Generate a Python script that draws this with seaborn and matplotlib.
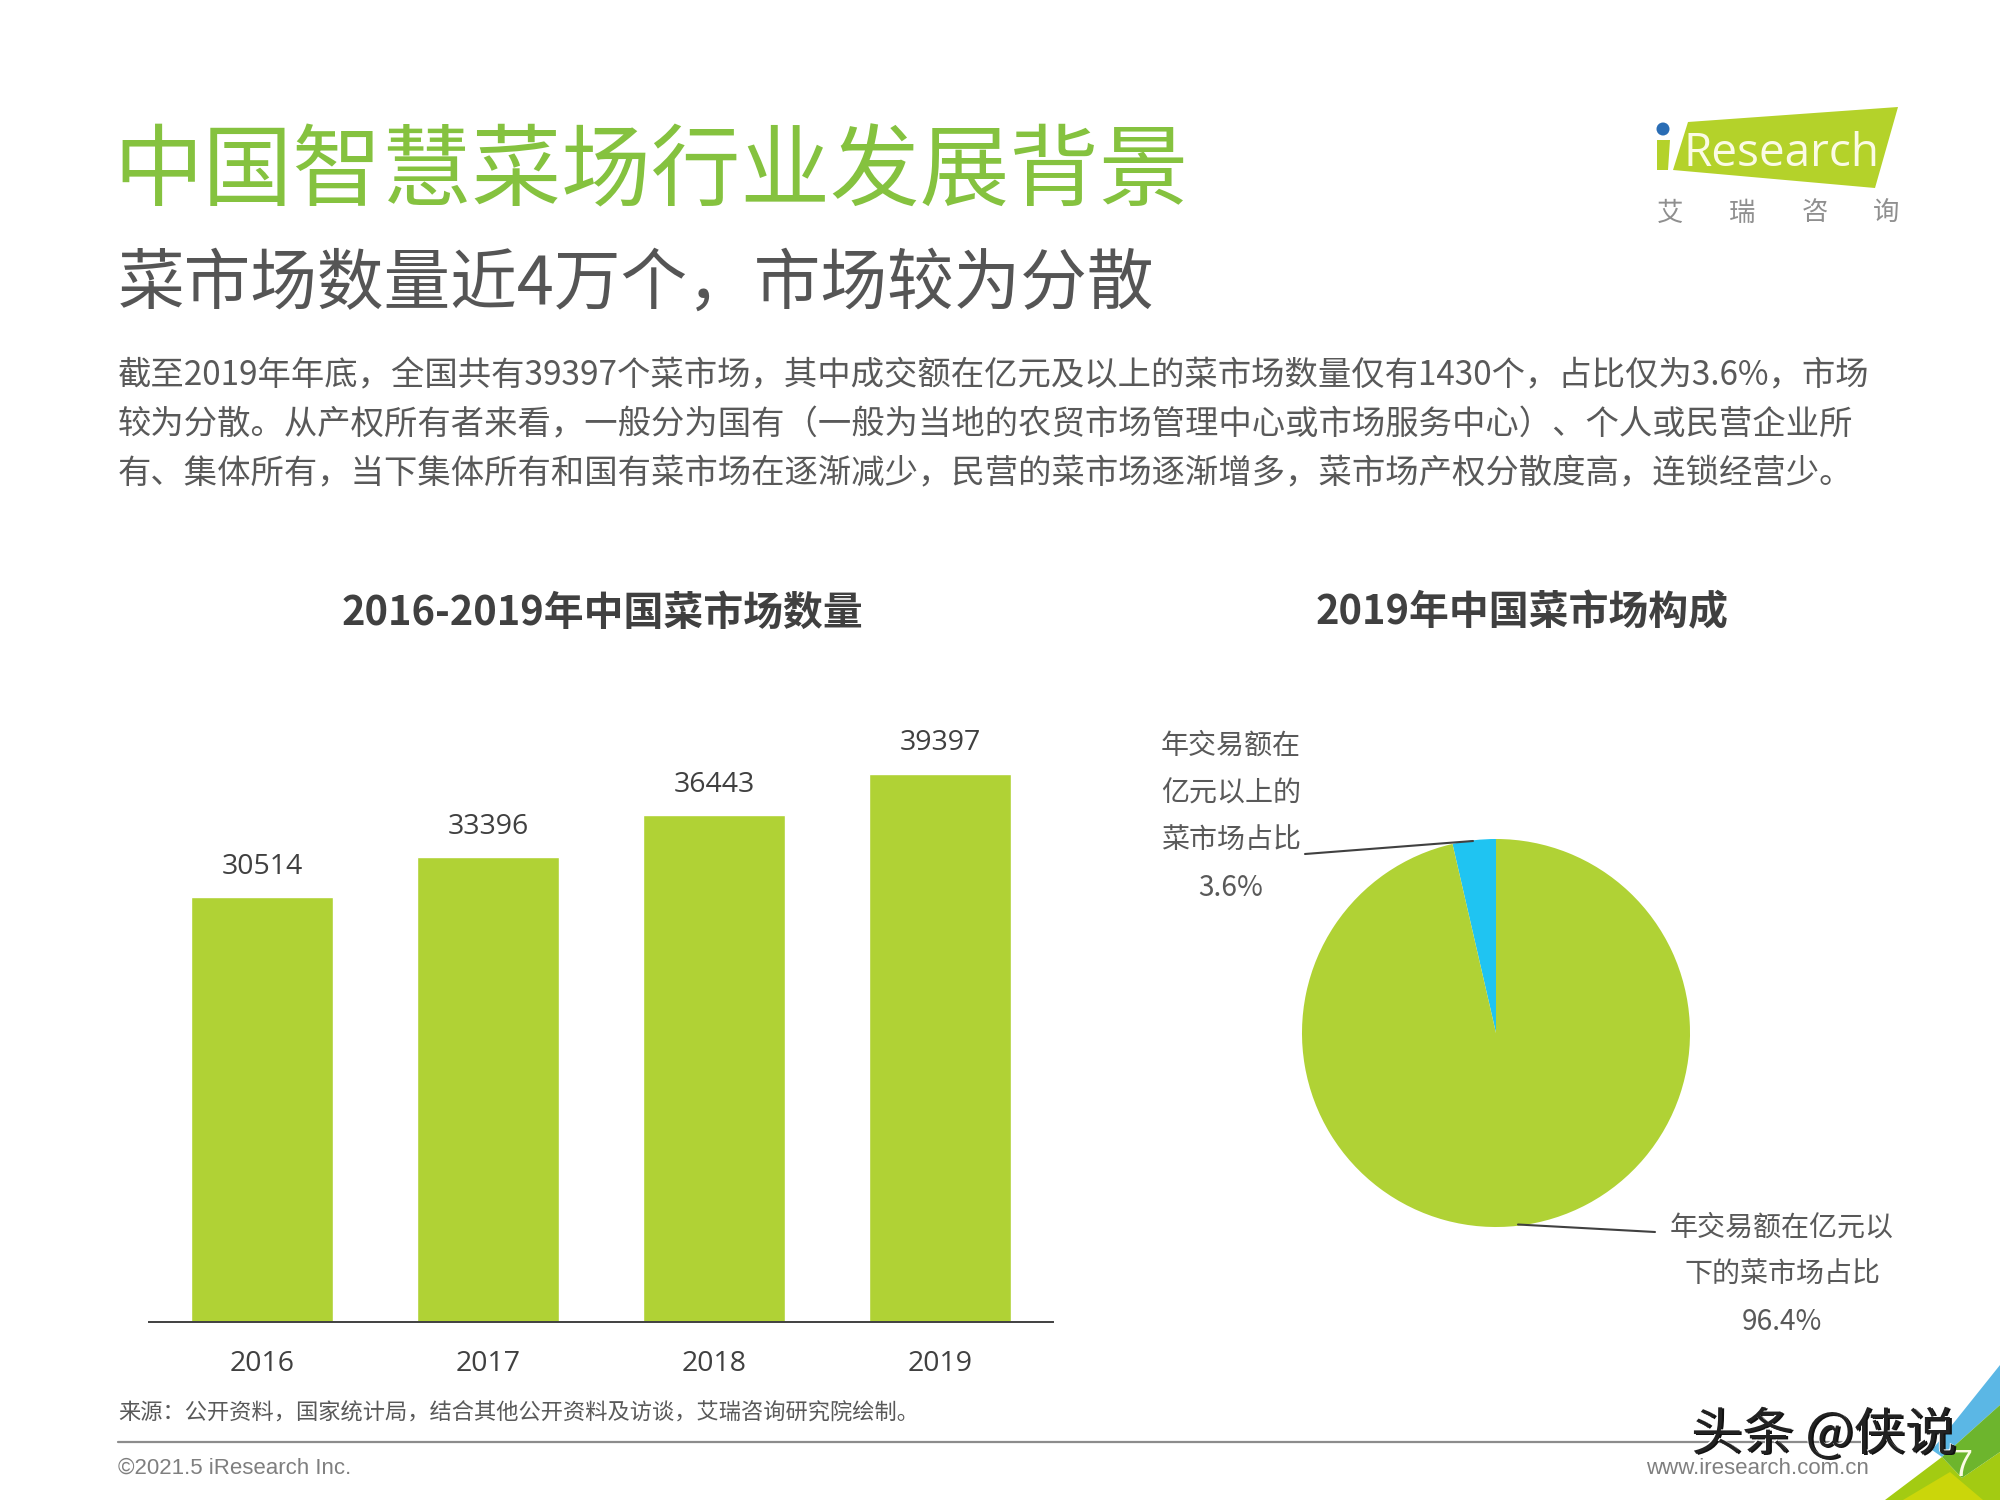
import matplotlib
matplotlib.use('Agg')
import matplotlib.pyplot as plt
import pandas as pd
import seaborn as sns
from matplotlib.patches import Circle, Polygon

# data
years = ['2016', '2017', '2018', '2019']
market_counts = [30514, 33396, 36443, 39397]
pie_labels = ['亿元以上', '亿元以下']
pie_shares = [3.6, 96.4]

body_lines = [
    '截至2019年年底，全国共有39397个菜市场，其中成交额在亿元及以上的菜市场数量仅有1430个，占比仅为3.6%，市场',
    '较为分散。从产权所有者来看，一般分为国有（一般为当地的农贸市场管理中心或市场服务中心）、个人或民营企业所',
    '有、集体所有，当下集体所有和国有菜市场在逐渐减少，民营的菜市场逐渐增多，菜市场产权分散度高，连锁经营少。',
]
upper_label = ['年交易额在', '亿元以上的', '菜市场占比', '3.6%']
lower_label = ['年交易额在亿元以', '下的菜市场占比', '96.4%']

GREEN = '#B0D235'
BLUE = '#1FC4F2'
TITLE_GREEN = '#85C23F'
GRAY = '#595959'
DARK = '#404040'

sns.set_theme(style='white')
plt.rcParams['font.family'] = ['Noto Sans CJK SC', 'DejaVu Sans']
plt.rcParams['axes.unicode_minus'] = False

fig = plt.figure(figsize=(20, 15), dpi=100, facecolor='white')

# overlay in pixel coords for page furniture
page = fig.add_axes([0, 0, 1, 1], zorder=0)
page.set_xlim(0, 2000)
page.set_ylim(1500, 0)
page.axis('off')


def put(x, y, s, size, color=GRAY, ha='left', weight='normal', family=None):
    kw = {'family': family} if family else {}
    return page.text(x, y, s, fontsize=size, color=color, ha=ha, va='center', fontweight=weight, **kw)


put(113, 174, '中国智慧菜场行业发展背景', 64.5, TITLE_GREEN)
put(118, 285, '菜市场数量近4万个，市场较为分散', 48, '#555555')
for y, line in zip([376, 425, 474], body_lines):
    put(118, y, line, 24)

put(602, 613, '2016-2019年中国菜市场数量', 28.7, DARK, ha='center', weight='bold')
put(1522, 613, '2019年中国菜市场构成', 28.7, DARK, ha='center', weight='bold')

# bars
df = pd.DataFrame({'year': years, 'count': market_counts})
ax = fig.add_axes([149 / 2000, 1 - 1321.5 / 1500, 904 / 2000, 584 / 1500], zorder=1)
ax.patch.set_alpha(0)
sns.barplot(data=df, x='year', y='count', color=GREEN, saturation=1, width=0.63, ax=ax)
ax.set_ylim(0, 42000)
ax.set_xlim(-0.5, 3.5)
ax.set_xlabel('')
ax.set_ylabel('')
ax.set_yticks([])
sns.despine(ax=ax, left=True)
ax.spines['bottom'].set_color(DARK)
ax.spines['bottom'].set_linewidth(1.4)
ax.tick_params(axis='x', length=0, pad=20.5, labelsize=20.5, labelcolor=DARK)
for t in ax.get_xticklabels():
    t.set_family('Open Sans')
for c in ax.containers:
    ax.bar_label(c, padding=11.7, fontsize=20.5, color=DARK, family='Open Sans')

# pie
pie_ax = fig.add_axes([(1496 - 204) / 2000, 1 - (1033 + 204) / 1500, 408 / 2000, 408 / 1500], zorder=1)
pie_ax.pie(pie_shares, colors=[BLUE, GREEN], startangle=90, counterclock=True, radius=1,
           wedgeprops={'linewidth': 0})
pie_ax.set_xlim(-1.0515, 1.0515)
pie_ax.set_ylim(-1.0515, 1.0515)

page.set_zorder(2)
for y, s in zip([746, 794, 841, 888], upper_label):
    put(1231, y, s, 20.2, ha='center')
for y, s in zip([1228, 1275, 1322], lower_label):
    put(1782, y, s, 20.2, ha='center')
page.plot([1305, 1473], [854, 841], color=DARK, lw=1.5)
page.plot([1518, 1655], [1224.5, 1232], color=DARK, lw=1.5)

# footer
put(118, 1413, '来源：公开资料，国家统计局，结合其他公开资料及访谈，艾瑞咨询研究院绘制。', 16)
page.plot([118, 1866], [1442, 1442], color='#8C8C8C', lw=1.6)
put(118, 1468, '©2021.5 iResearch Inc.', 16, '#7F7F7F', family='Liberation Sans')
put(1869, 1468, 'www.iresearch.com.cn', 16, '#7F7F7F', ha='right', family='Liberation Sans')

# corner triangles
page.add_patch(Polygon([(2000, 1365), (1932, 1450), (1942, 1457), (2000, 1405)], color='#5BB7E5', lw=0))
page.add_patch(Polygon([(1885, 1500), (1942, 1457), (1962, 1478), (2000, 1452), (2000, 1500)], color='#A3CB12', lw=0))
page.add_patch(Polygon([(2000, 1405), (1942, 1457), (1962, 1478), (2000, 1452)], color='#6DB52D', lw=0))
page.add_patch(Polygon([(1903, 1500), (1950, 1472), (1983, 1500)], color='#CBD60A', lw=0))
put(1962, 1466, '7', 26, '#FBFBE5', ha='center', family='Liberation Sans')

# watermark
for dx, col in [(2.5, '#111111'), (0, 'white'), (0.8, '#222222')]:
    put(1823 + dx, 1434 + dx, '头条 @侠说', 37, col, ha='center')

# logo
page.add_patch(Polygon([(1688, 122), (1898, 107), (1875, 188), (1673, 170)], color='#B4D22A', lw=0))
page.add_patch(Polygon([(1657, 140), (1670, 140), (1668, 170), (1657, 170)], color='#B4D22A', lw=0))
page.add_patch(Circle((1663, 129), 6.5, color='#2A6DB5', lw=0))
put(1683, 154, 'Research', 33, '#FBFBE5', family='Open Sans')
for x, s in zip([1670, 1742, 1815, 1886], '艾瑞咨询'):
    put(x, 213, s, 19, '#8F8F8F', ha='center')

fig.savefig('out.png', dpi=100)
